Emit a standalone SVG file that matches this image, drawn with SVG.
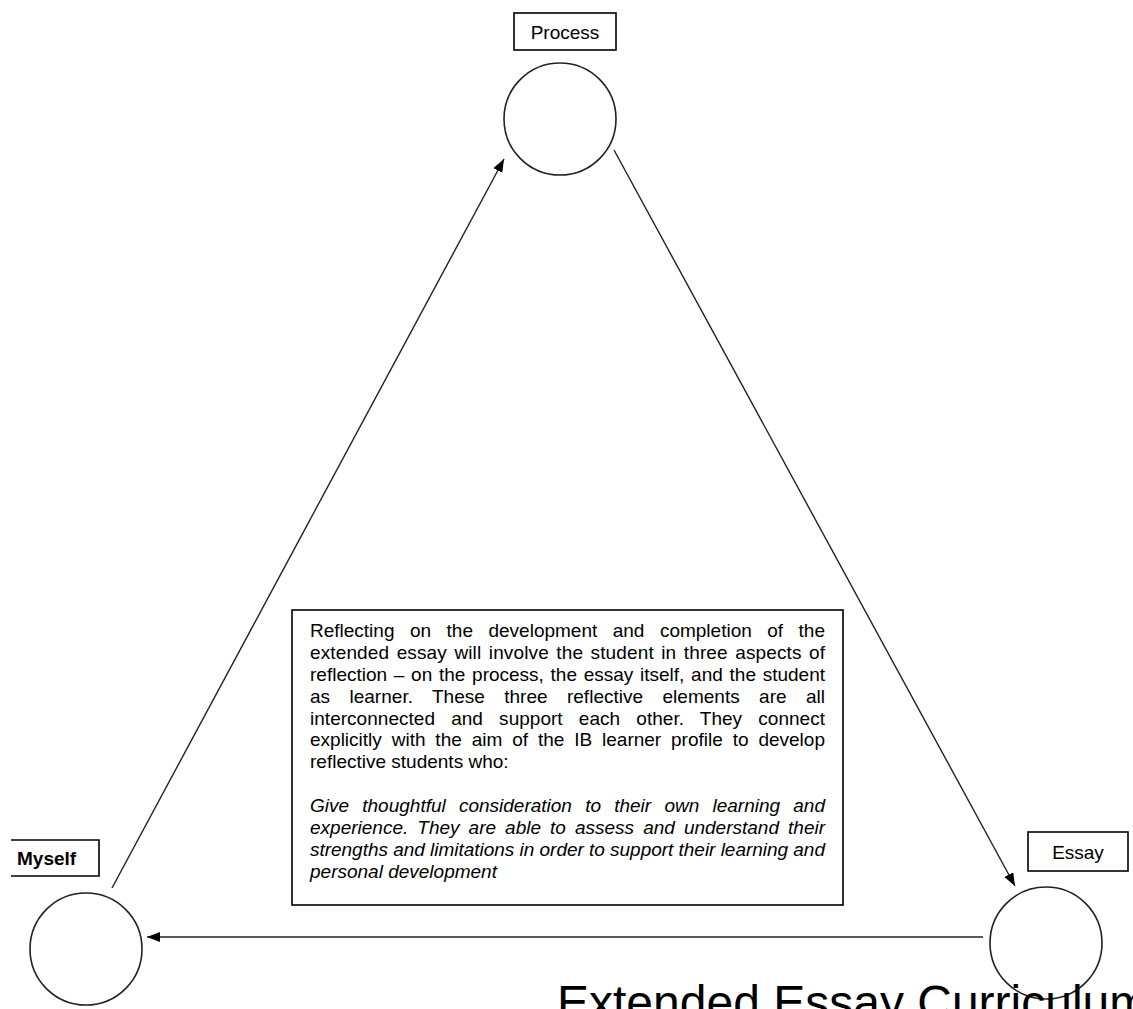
<svg xmlns="http://www.w3.org/2000/svg" width="1133" height="1009" viewBox="0 0 1133 1009">
<style>
.lbl{font-family:"Liberation Sans",Arial,sans-serif;font-size:19px;fill:#000}
.box{fill:#fff;stroke:#000;stroke-width:1.6}
.circ{fill:#fff;stroke:#222;stroke-width:1.6}
.conn{stroke:#222;stroke-width:1.4;fill:none;marker-end:url(#ah)}
.body{font-family:"Liberation Sans",Arial,sans-serif;font-size:19px;fill:#000}
.it{font-style:italic}
</style>
<defs>
<marker id="ah" markerUnits="userSpaceOnUse" markerWidth="14" markerHeight="12" refX="13" refY="5" orient="auto">
<path d="M0,0 L13,5 L0,10 Z" fill="#000"/>
</marker>
</defs>
<rect width="1133" height="1009" fill="#fff"/>
<g id="connectors">
<line class="conn" x1="112" y1="888" x2="504" y2="159"/>
<line class="conn" x1="614" y1="150" x2="1015" y2="886"/>
<line class="conn" x1="983" y1="937" x2="147" y2="937"/>
</g>
<g id="process">
<rect class="box" x="514" y="13" width="102" height="37"/>
<text class="lbl" x="565" y="39" text-anchor="middle">Process</text>
<circle class="circ" cx="560" cy="119" r="56"/>
</g>
<g id="essay">
<rect class="box" x="1028" y="832" width="100" height="39"/>
<text class="lbl" x="1078" y="859" text-anchor="middle">Essay</text>
<circle class="circ" cx="1046" cy="943" r="56"/>
</g>
<g id="myself">
<path class="box" d="M11,840 H99 V876 H11" fill="none"/>
<text class="lbl" x="17" y="865" font-weight="bold">Myself</text>
<circle class="circ" cx="86" cy="949" r="56"/>
</g>
<g id="note">
<rect class="box" x="292" y="610" width="551" height="295"/>
<text class="body">
<tspan x="310" y="637" word-spacing="10.2" textLength="515" lengthAdjust="spacing">Reflecting on the development and completion of the</tspan>
<tspan x="310" y="659" word-spacing="2.08" textLength="515" lengthAdjust="spacing">extended essay will involve the student in three aspects of</tspan>
<tspan x="310" y="681" word-spacing="1.44" textLength="515" lengthAdjust="spacing">reflection – on the process, the essay itself, and the student</tspan>
<tspan x="310" y="703" word-spacing="13.99" textLength="515" lengthAdjust="spacing">as learner. These three reflective elements are all</tspan>
<tspan x="310" y="725" word-spacing="10.85" textLength="515" lengthAdjust="spacing">interconnected and support each other. They connect</tspan>
<tspan x="310" y="746" word-spacing="4.61" textLength="515" lengthAdjust="spacing">explicitly with the aim of the IB learner profile to develop</tspan>
<tspan x="310" y="768">reflective students who:</tspan>
</text>
<text class="body it">
<tspan x="310" y="812" word-spacing="7.95" textLength="515" lengthAdjust="spacing">Give thoughtful consideration to their own learning and</tspan>
<tspan x="310" y="834" word-spacing="3.78" textLength="515" lengthAdjust="spacing">experience. They are able to assess and understand their</tspan>
<tspan x="310" y="856" textLength="515" lengthAdjust="spacing">strengths and limitations in order to support their learning and</tspan>
<tspan x="310" y="878">personal development</tspan>
</text>
</g>
<text x="557" y="1019" font-family="'Liberation Sans',Arial,sans-serif" font-size="48" fill="#000">Extended Essay Curriculum</text>
</svg>
